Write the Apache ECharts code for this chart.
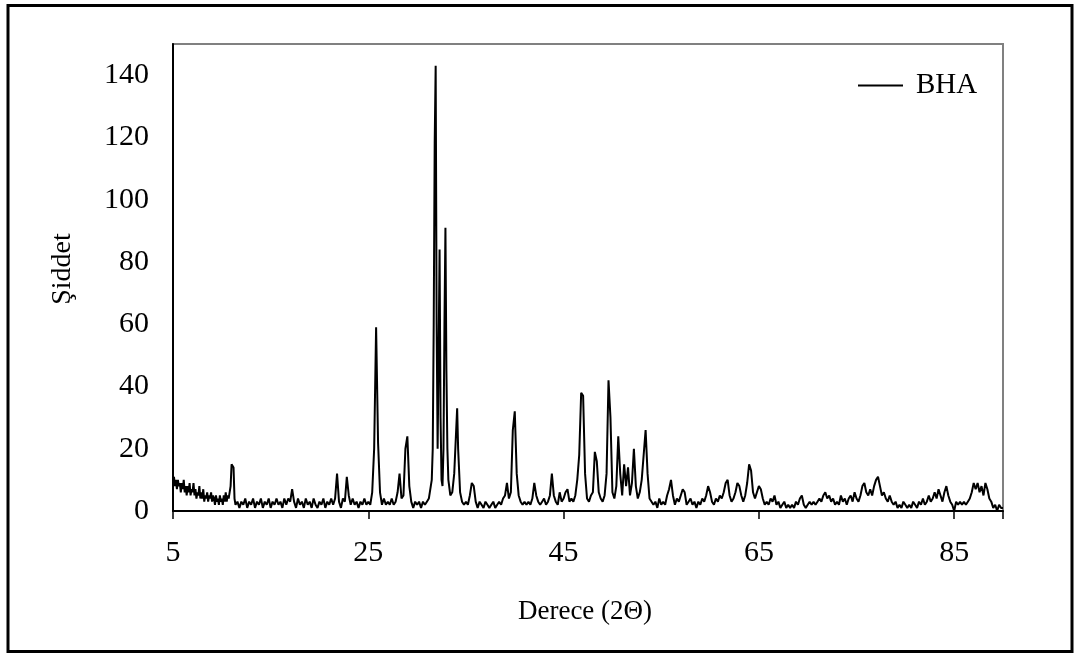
<!DOCTYPE html>
<html>
<head>
<meta charset="utf-8">
<script src="https://cdn.jsdelivr.net/npm/echarts@6/dist/echarts.min.js"></script>
<style>
  html, body { margin: 0; padding: 0; background: #fff; }
  #chart { width: 1082px; height: 654px; }
</style>
</head>
<body>
<div id="chart"></div>
<script>
// BHA X-ray diffraction pattern: [2θ (degrees), intensity]
const lowAngle = [
  [5.0,9],[5.1,11],[5.2,8],[5.3,10],[5.4,7],[5.5,10],[5.6,8],[5.7,9],[5.8,6],[5.9,9],
  [6.0,7],[6.1,10],[6.2,6],[6.3,8],[6.4,5],[6.5,8],[6.6,6],[6.7,9],[6.8,5],[6.9,7],
  [7.0,6],[7.1,9],[7.2,5],[7.3,7],[7.4,4],[7.5,6],[7.6,5],[7.7,8],[7.8,4],[7.9,6],
  [8.0,4],[8.1,7],[8.2,3],[8.3,5],[8.4,4],[8.5,6],[8.6,3],[8.7,5],[8.8,4],[8.9,6],
  [9.0,3],[9.1,5],[9.2,4],[9.3,2],[9.4,5],[9.5,3],[9.6,4],[9.7,2],[9.8,5],[9.9,3],
  [10.0,4],[10.1,2],[10.2,5],[10.3,3],[10.4,6],[10.5,3],[10.6,5],[10.7,4],[10.8,6],[10.9,8],
  [11.0,15],[11.1,15],[11.2,14],[11.3,4],[11.4,2],[11.6,3],[11.8,1],[12.0,3],[12.2,2],[12.4,4],
  [12.6,1],[12.8,3],[13.0,2],[13.2,4],[13.4,1],[13.6,3],[13.8,2],[14.0,4],[14.2,1],[14.4,3],
  [14.6,2],[14.8,4],[15.0,1],[15.2,3],[15.4,2],[15.6,4],[15.8,2],[16.0,3],[16.2,1],[16.4,4],
  [16.6,2],[16.8,4],[17.0,3],[17.2,7],[17.4,3],[17.6,1],[17.8,4],[18.0,2],[18.2,3],[18.4,1],
  [18.6,4],[18.8,2],[19.0,3],[19.2,1],[19.4,4],[19.6,2],[19.8,1],[20.0,3],[20.2,2],[20.4,4],
  [20.6,1],[20.8,3],[21.0,2],[21.2,4],[21.4,2],[21.6,4],[21.8,12],[22.0,3],[22.2,1],[22.4,4],
  [22.6,3],[22.8,11],[23.0,5],[23.2,2],[23.4,4],[23.6,2],[23.8,3],[24.0,1],[24.2,3],[24.4,2],
  [24.6,4],[24.8,2],[25.0,3],[25.2,2],[25.4,6],[25.6,20],[25.8,59],[26.0,22],[26.2,6],[26.4,2],
  [26.6,4],[26.8,2],[27.0,3],[27.2,2],[27.4,4],[27.6,2],[27.8,3],[28.0,6],[28.2,12],[28.4,4],
  [28.6,5],[28.8,20],[29.0,24],[29.2,8],[29.4,3],[29.6,1],[29.8,3],[30.0,2],[30.2,3],[30.4,1],
  [30.6,3],[30.8,2],[31.0,3],[31.2,4],[31.4,8]
];
const mainPeaks = [
  [31.5,10],[31.6,20],[31.7,60],[31.8,118],[31.9,143],[32.0,60],[32.1,20],[32.2,50],[32.3,84],
  [32.4,30],[32.5,10],[32.6,8],[32.7,20],[32.8,60],[32.9,91],[33.0,45],[33.1,20],[33.2,10],
  [33.4,5],[33.6,6],[33.8,12],[34.0,26],[34.1,33],[34.2,20],[34.4,6]
];
const midAngle = [
  [34.6,3],[34.8,2],[35.0,3],[35.2,2],[35.4,5],[35.6,9],[35.8,8],[36.0,3],[36.2,1],
  [36.4,3],[36.6,2],[36.8,1],[37.0,3],[37.2,2],[37.4,1],[37.6,2],[37.8,3],[38.0,1],[38.2,2],
  [38.4,3],[38.6,2],[38.8,4],[39.0,5],[39.2,9],[39.4,4],[39.6,6],[39.8,26],[40.0,32],[40.2,12],
  [40.4,5],[40.6,3],[40.8,2],[41.0,3],[41.2,2],[41.4,3],[41.6,2],[41.8,4],[42.0,9],[42.2,5],
  [42.4,3],[42.6,2],[42.8,3],[43.0,4],[43.2,2],[43.4,3],[43.6,5],[43.8,12],[44.0,5],[44.2,3],
  [44.4,2],[44.6,6],[44.8,3],[45.0,4],[45.2,6],[45.4,7],[45.6,3],[45.8,4],[46.0,3],[46.2,5],
  [46.4,10],[46.6,18],[46.8,38],[47.0,37],[47.2,12],[47.4,4],[47.6,3],[47.8,5],[48.0,6],[48.2,19],
  [48.4,16],[48.6,6],[48.8,4],[49.0,3],[49.2,5],[49.4,12],[49.6,42],[49.8,30],[50.0,6],[50.2,4],
  [50.4,8],[50.6,24],[50.8,12],[51.0,5],[51.2,15],[51.4,8],[51.6,14],[51.8,5],[52.0,9],[52.2,20],
  [52.4,8],[52.6,4],[52.8,6],[53.0,10],[53.2,18],[53.4,26],[53.6,12],[53.8,4],[54.0,4],[54.2,2],
  [54.4,3],[54.6,1],[54.8,4],[55.0,2],[55.2,3],[55.4,2],[55.6,5],[55.8,7],[56.0,10],[56.2,5],
  [56.4,2],[56.6,4],[56.8,3],[57.0,5],[57.2,7],[57.4,6],[57.6,2],[57.8,3],[58.0,4],[58.2,2],
  [58.4,3],[58.6,1],[58.8,3],[59.0,2],[59.2,4],[59.4,3],[59.6,5],[59.8,8],[60.0,6],[60.2,3],
  [60.4,2],[60.6,4],[60.8,3],[61.0,5],[61.2,4],[61.4,6],[61.6,9],[61.8,10],[62.0,5],[62.2,3],
  [62.4,4],[62.6,6],[62.8,9],[63.0,8],[63.2,5],[63.4,3],[63.6,5],[63.8,9],[64.0,15],[64.2,13],
  [64.4,6],[64.6,4],[64.8,6],[65.0,8],[65.2,7],[65.4,4],[65.6,2],[65.8,3]
];
const highAngle = [
  [66.0,2],[66.2,4],[66.4,3],[66.6,5],[66.8,2],[67.0,3],[67.2,1],[67.4,2],[67.6,3],[67.8,1],
  [68.0,2],[68.2,1],[68.4,2],[68.6,1],[68.8,3],[69.0,2],[69.2,4],[69.4,5],[69.6,2],[69.8,1],
  [70.0,2],[70.2,3],[70.4,2],[70.6,3],[70.8,2],[71.0,3],[71.2,4],[71.4,3],[71.6,5],[71.8,6],
  [72.0,4],[72.2,5],[72.4,3],[72.6,4],[72.8,2],[73.0,3],[73.2,2],[73.4,5],[73.6,3],[73.8,4],
  [74.0,2],[74.2,4],[74.4,5],[74.6,3],[74.8,6],[75.0,4],[75.2,3],[75.4,5],[75.6,8],[75.8,9],
  [76.0,6],[76.2,5],[76.4,7],[76.6,5],[76.8,8],[77.0,10],[77.2,11],[77.4,8],[77.6,5],[77.8,6],
  [78.0,4],[78.2,3],[78.4,5],[78.6,3],[78.8,2],[79.0,3],[79.2,1],[79.4,2],[79.6,1],[79.8,3],
  [80.0,2],[80.2,1],[80.4,2],[80.6,1],[80.8,3],[81.0,2],[81.2,1],[81.4,3],[81.6,2],[81.8,4],
  [82.0,2],[82.2,3],[82.4,5],[82.6,3],[82.8,4],[83.0,6],[83.2,4],[83.4,7],[83.6,5],[83.8,3],
  [84.0,6],[84.2,8],[84.4,5],[84.6,3],[84.8,2],[85.0,0],[85.2,3],[85.4,2],[85.6,3],[85.8,2],
  [86.0,3],[86.2,2],[86.4,3],[86.6,4],[86.8,6],[87.0,9],[87.2,7],[87.4,9],[87.6,6],[87.8,8],
  [88.0,5],[88.2,9],[88.4,7],[88.6,4],[88.8,3],[89.0,1],[89.2,2],[89.4,0],[89.6,2],[89.8,1],
  [90.0,1]
];

const seriesName = 'BHA';
const xTitle = 'Derece (2Θ)';
const yTitle = 'Şiddet';

const pattern = lowAngle.concat(mainPeaks, midAngle, highAngle);

const serif = 'Liberation Serif';
const chart = echarts.init(document.getElementById('chart'), null, { renderer: 'canvas' });

chart.setOption({
  backgroundColor: '#fff',
  animation: false,
  grid: {
    left: 173, right: 79, top: 44, bottom: 143,
    show: true, borderColor: '#808080', borderWidth: 2, backgroundColor: 'transparent'
  },
  legend: {
    data: [seriesName],
    left: 858, top: 71, padding: 0,
    icon: 'rect', itemWidth: 45, itemHeight: 2,
    textStyle: { fontFamily: serif, fontSize: 29, color: '#000', padding: [0, 0, 0, 8] }
  },
  xAxis: {
    type: 'value', min: 5, max: 90, interval: 20,
    axisLine: { show: true, onZero: false, lineStyle: { color: '#000', width: 2 } },
    axisTick: { show: true, inside: false, length: 8, lineStyle: { color: '#000', width: 1.5 } },
    axisLabel: {
      fontFamily: serif, fontSize: 30, color: '#000', margin: 27,
      formatter: v => ((v - 5) % 20 === 0 ? String(v) : '')
    },
    splitLine: { show: false }
  },
  yAxis: {
    type: 'value', min: 0, max: 150, interval: 20,
    axisLine: { show: true, lineStyle: { color: '#000', width: 2 } },
    axisTick: { show: false },
    axisLabel: {
      fontFamily: serif, fontSize: 30, color: '#000', margin: 24, padding: [6, 0, 0, 0],
      formatter: v => (v % 20 === 0 ? String(v) : '')
    },
    splitLine: { show: false }
  },
  series: [{
    name: seriesName,
    type: 'line',
    data: pattern,
    symbol: 'none',
    lineStyle: { color: '#000', width: 2 },
    itemStyle: { color: '#000' }
  }],
  graphic: [
    {
      type: 'rect',
      shape: { x: 8, y: 5.5, width: 1064, height: 646 },
      style: { fill: 'none', stroke: '#000', lineWidth: 3 },
      silent: true
    },
    {
      type: 'text', x: 585, y: 612,
      style: { text: xTitle, font: '27px "Liberation Serif"', fill: '#000', align: 'center', verticalAlign: 'middle' }
    },
    {
      type: 'text', x: 63, y: 269, rotation: Math.PI / 2,
      style: { text: yTitle, font: '28px "Liberation Serif"', fill: '#000', align: 'center', verticalAlign: 'middle' }
    }
  ]
});
</script>
</body>
</html>
